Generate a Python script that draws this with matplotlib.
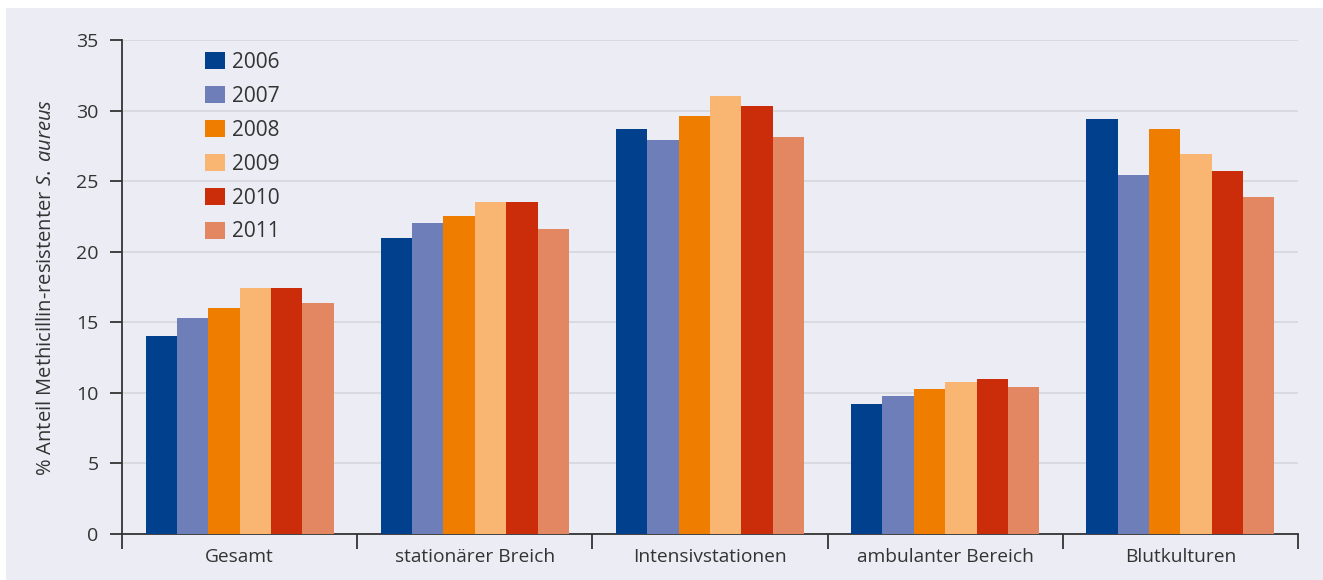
import numpy as np
import matplotlib.pyplot as plt
from matplotlib.patches import Rectangle

plt.rcParams['font.family'] = ['Open Sans', 'DejaVu Sans']
plt.rcParams['mathtext.fontset'] = 'custom'
plt.rcParams['mathtext.rm'] = 'Open Sans'
plt.rcParams['mathtext.it'] = 'Open Sans:italic'

#%% data
categories = ['Gesamt', 'stationärer Breich', 'Intensivstationen',
              'ambulanter Bereich', 'Blutkulturen']
years = ['2006', '2007', '2008', '2009', '2010', '2011']

v2006 = [14.0, 21.0, 28.7, 9.2, 29.4]
v2007 = [15.3, 22.0, 27.9, 9.8, 25.4]
v2008 = [16.0, 22.5, 29.6, 10.3, 28.7]
v2009 = [17.4, 23.5, 31.0, 10.8, 26.9]
v2010 = [17.4, 23.5, 30.3, 11.0, 25.7]
v2011 = [16.4, 21.6, 28.1, 10.4, 23.9]
series = [v2006, v2007, v2008, v2009, v2010, v2011]

colors = ['#00408C', '#6E7EB9', '#EF7D00', '#F8B672', '#CB2D0A', '#E38762']
bg = '#ECECF5'
txt = '#333333'

#%% plot
fig = plt.figure(figsize=(13.23, 5.8), dpi=100, facecolor='white')
fig.patches.append(Rectangle((6 / 1323, 0), 1, 572 / 580, transform=fig.transFigure,
                             facecolor=bg, edgecolor='none', zorder=-10))
ax = fig.add_axes([122 / 1323, 46 / 580, 1176 / 1323, 494 / 580])
ax.set_facecolor('none')

x = np.arange(len(categories))
w = 0.8 / len(years)
for i, (vals, c, yr) in enumerate(zip(series, colors, years)):
    ax.bar(x + (i - 2.5) * w, vals, width=w, color=c, label=yr, zorder=3)

ax.set_xlim(-0.5, len(categories) - 0.5)
ax.set_ylim(0, 35)
ax.set_yticks(range(0, 36, 5))
ax.yaxis.grid(True, color='#D8D8DE', lw=1.3, zorder=0)

ax.set_xticks(np.arange(-0.5, len(categories), 1.0))
ax.set_xticklabels([])
ax.set_xticks(x, minor=True)
ax.set_xticklabels(categories, minor=True)
ax.tick_params(axis='x', which='major', direction='out', length=11, width=1.3, color=txt)
ax.tick_params(axis='x', which='minor', length=0, pad=10, labelsize=13.8, labelcolor=txt)
ax.tick_params(axis='y', direction='out', length=9, width=1.3, color=txt,
               pad=8, labelsize=14, labelcolor=txt)

for s in ['top', 'right']:
    ax.spines[s].set_visible(False)
for s in ['left', 'bottom']:
    ax.spines[s].set_color(txt)
    ax.spines[s].set_linewidth(1.3)

ax.set_ylabel('% Anteil Methicillin-resistenter $\\mathit{S.}$ $\\mathit{aureus}$',
              fontsize=14.5, color=txt, labelpad=14)

ax.legend(loc='upper left', bbox_to_anchor=(0.0706, 0.976), frameon=False,
          fontsize=15, handlelength=0.95, handleheight=0.9, handletextpad=0.35,
          labelspacing=0.62, borderpad=0, borderaxespad=0, labelcolor=txt)

plt.savefig('out.png', dpi=100, facecolor=fig.get_facecolor())
